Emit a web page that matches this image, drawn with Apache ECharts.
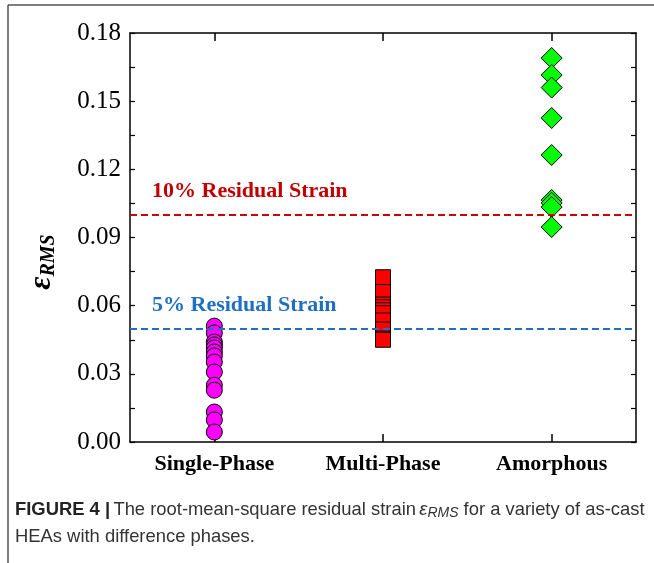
<!DOCTYPE html>
<html lang="en">
<head>
    <meta charset="UTF-8">
    <title>RMS residual strain</title>
    <script src="https://cdn.jsdelivr.net/npm/echarts@6/dist/echarts.min.js"></script>
    <style>
        html, body { margin: 0; padding: 0; background: #fff; }
        #main { width: 654px; height: 563px; }
    </style>
</head>
<body>
    <div id="main"></div>
<script>
    // phase categories
    let phases = ['Single-Phase', 'Multi-Phase', 'Amorphous'];
    // residual strain values
    let singlePhase = [0.051, 0.048, 0.044, 0.0427, 0.0414, 0.0396, 0.0379, 0.0352, 0.0308, 0.025, 0.0228, 0.0132, 0.0097, 0.0044];
    let multiPhase = [0.0725, 0.066, 0.0605, 0.0593, 0.058, 0.0567, 0.0535, 0.0495, 0.0455, 0.0450];
    let amorphous = [0.169, 0.1615, 0.156, 0.1426, 0.1263, 0.1065, 0.1052, 0.1034, 0.0946];
    let yTicks = [0, 0.03, 0.06, 0.09, 0.12, 0.15, 0.18];
    let refLines = [0.101, 0.0506];
    let refLabels = ['10% Residual Strain', '5% Residual Strain'];

    let myChart = echarts.init(document.getElementById('main'));
    let serif = '"Liberation Serif", "DejaVu Serif", serif';
    let sans = '"Liberation Sans", Arial, sans-serif';

    function pts(idx, arr) {
        return arr.map(function(v) { return [phases[idx], v]; });
    }

    let xBase = {
        type: 'category',
        data: phases,
        boundaryGap: true,
        splitLine: { show: false },
        axisLine: { show: true, onZero: false, lineStyle: { color: '#000', width: 1.5 } },
        axisTick: { show: true, inside: true, alignWithLabel: true, length: 8, lineStyle: { color: '#000', width: 1.5 } }
    };
    let yBase = {
        type: 'value',
        min: 0,
        max: 0.18,
        interval: 0.03,
        splitLine: { show: false },
        axisLine: { show: true, onZero: false, lineStyle: { color: '#000', width: 1.5 } },
        axisTick: { show: true, inside: true, length: 5, lineStyle: { color: '#000', width: 1.2 } },
        minorTick: { show: true, splitNumber: 2, length: 5, lineStyle: { color: '#000', width: 1.2 } }
    };

    myChart.setOption({
        animation: false,
        grid: { left: 130, right: 18, top: 33, bottom: 121 },
        xAxis: [
            Object.assign({}, xBase, {
                position: 'bottom',
                axisLabel: {
                    margin: 11,
                    fontFamily: serif,
                    fontWeight: 'bold',
                    fontSize: 22,
                    color: '#000'
                }
            }),
            Object.assign({}, xBase, { position: 'top', axisLabel: { show: false } })
        ],
        yAxis: [
            Object.assign({}, yBase, {
                position: 'left',
                axisLabel: {
                    margin: 9,
                    fontFamily: serif,
                    fontSize: 25,
                    color: '#000',
                    formatter: function(v) {
                        let hit = yTicks.find(function(t) { return Math.abs(t - v) < 1e-9; });
                        return hit === undefined ? '' : hit.toFixed(2);
                    }
                }
            }),
            Object.assign({}, yBase, { position: 'right', axisLabel: { show: false } })
        ],
        graphic: [
            { type: 'line', shape: { x1: 8, y1: 5, x2: 654, y2: 5 }, style: { stroke: '#555', lineWidth: 1.5 } },
            { type: 'line', shape: { x1: 8, y1: 5, x2: 8, y2: 563 }, style: { stroke: '#555', lineWidth: 1.5 } },
            {
                type: 'text',
                x: 42, y: 262,
                rotation: Math.PI / 2,
                style: {
                    text: '{e|ε}{s|RMS}',
                    align: 'center',
                    verticalAlign: 'middle',
                    rich: {
                        e: { fontFamily: serif, fontStyle: 'italic', fontWeight: 'bold', fontSize: 32, fill: '#000' },
                        s: { fontFamily: serif, fontStyle: 'italic', fontWeight: 'bold', fontSize: 20, fill: '#000', padding: [14, 0, 0, 0] }
                    }
                }
            },
            {
                type: 'text',
                x: 15, y: 496,
                style: {
                    text: '{b|FIGURE 4 |} {n|The root-mean-square residual strain} {i|ε}{sub|RMS}{n| for a variety of as-cast}\n{n|HEAs with difference phases.}',
                    lineHeight: 27,
                    rich: {
                        b: { fontFamily: sans, fontWeight: 'bold', fontSize: 18.4, fill: '#222', lineHeight: 27 },
                        n: { fontFamily: sans, fontSize: 18.4, fill: '#333', lineHeight: 27 },
                        i: { fontFamily: sans, fontStyle: 'italic', fontSize: 18.4, fill: '#333', lineHeight: 27 },
                        sub: { fontFamily: sans, fontStyle: 'italic', fontSize: 14, fill: '#333', padding: [8, 0, 0, 0], lineHeight: 27 }
                    }
                }
            }
        ],
        series: [
            {
                type: 'scatter',
                name: phases[0],
                data: pts(0, singlePhase),
                symbol: 'circle',
                symbolSize: 16,
                itemStyle: { color: '#ff00ff', borderColor: '#000', borderWidth: 1, opacity: 1 },
                markLine: {
                    silent: true,
                    symbol: 'none',
                    data: [
                        {
                            yAxis: refLines[0],
                            lineStyle: { color: '#cc0000', type: [7, 4], width: 2 },
                            label: { formatter: refLabels[0], color: '#c00000' }
                        },
                        {
                            yAxis: refLines[1],
                            lineStyle: { color: '#1f6fc8', type: [7, 4], width: 2 },
                            label: { formatter: refLabels[1], color: '#1f6fc0' }
                        }
                    ],
                    label: {
                        position: 'insideStartTop',
                        distance: [22, 12],
                        fontFamily: serif,
                        fontWeight: 'bold',
                        fontSize: 22
                    }
                },
                z: 3
            },
            {
                type: 'scatter',
                name: phases[1],
                data: pts(1, multiPhase),
                symbol: 'rect',
                symbolSize: 15,
                itemStyle: { color: '#ff0000', borderColor: '#000', borderWidth: 1, opacity: 1 },
                z: 3
            },
            {
                type: 'scatter',
                name: phases[2],
                data: pts(2, amorphous),
                symbol: 'diamond',
                symbolSize: 21,
                itemStyle: { color: '#00ff00', borderColor: '#000', borderWidth: 1, opacity: 1 },
                z: 3
            }
        ]
    });
</script>
</body>
</html>
